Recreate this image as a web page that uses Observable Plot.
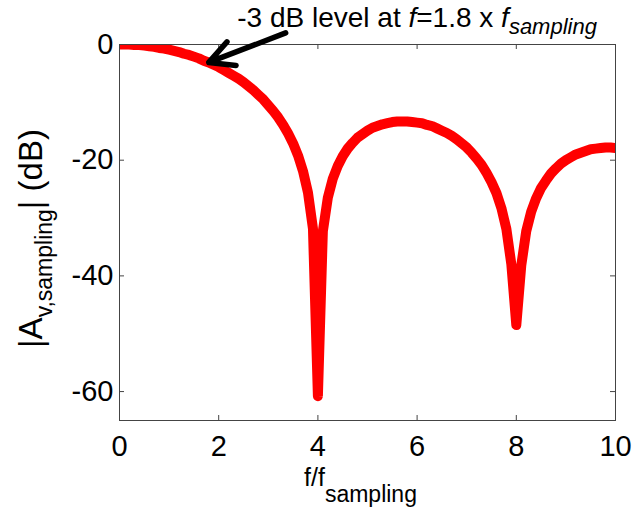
<!DOCTYPE html>
<html>
<head>
<meta charset="utf-8">
<script src="https://cdn.jsdelivr.net/npm/d3@7"></script>
<script src="https://cdn.jsdelivr.net/npm/@observablehq/plot@0.6"></script>
<style>
  html, body { margin: 0; padding: 0; background: white; }
</style>
</head>
<body>
<div id="chart"></div>
<script>
// Frequency normalised to the sampling frequency
const freq = [
  0.0,0.1,0.2,0.3,0.4,0.5,0.6,0.7,0.8,0.9,
  1.0,1.1,1.2,1.3,1.4,1.5,1.6,1.7,1.8,1.9,
  2.0,2.1,2.2,2.3,2.4,2.5,2.6,2.7,2.8,2.9,
  3.0,3.1,3.2,3.3,3.4,3.5,3.6,3.7,3.8,3.9,
  4.0,4.1,4.2,4.3,4.4,4.5,4.6,4.7,4.8,4.9,
  5.0,5.1,5.2,5.3,5.4,5.5,5.6,5.7,5.8,5.9,
  6.0,6.1,6.2,6.3,6.4,6.5,6.6,6.7,6.8,6.9,
  7.0,7.1,7.2,7.3,7.4,7.5,7.6,7.7,7.8,7.9,
  8.0,8.1,8.2,8.3,8.4,8.5,8.6,8.7,8.8,8.9,
  9.0,9.1,9.2,9.3,9.4,9.5,9.6,9.7,9.8,9.9,
  10.0
];
// |A_v,sampling| in dB
const gainDb = [
  0.0,0.0,0.0,-0.1,-0.1,-0.2,-0.3,-0.4,-0.6,-0.7,
  -0.9,-1.1,-1.3,-1.6,-1.8,-2.1,-2.4,-2.8,-3.1,-3.5,
  -3.9,-4.4,-4.9,-5.4,-5.9,-6.5,-7.2,-7.9,-8.7,-9.5,
  -10.5,-11.5,-12.6,-13.9,-15.4,-17.1,-19.2,-21.9,-25.6,-31.8,
  -60.8,-32.3,-26.5,-23.2,-21.0,-19.3,-18.0,-17.0,-16.1,-15.5,
  -14.9,-14.4,-14.1,-13.8,-13.6,-13.4,-13.3,-13.3,-13.3,-13.4,
  -13.5,-13.6,-13.9,-14.1,-14.5,-14.9,-15.3,-15.8,-16.4,-17.1,
  -17.8,-18.7,-19.7,-20.8,-22.2,-23.8,-25.7,-28.3,-31.9,-38.0,
  -48.5,-38.2,-32.3,-28.9,-26.6,-24.8,-23.5,-22.3,-21.4,-20.6,
  -20.0,-19.5,-19.0,-18.7,-18.4,-18.1,-18.0,-17.9,-17.8,-17.8,
  -17.9
];
const xTicks = [0, 2, 4, 6, 8, 10];
const yTicks = [0, -20, -40, -60];
const xLabel = "f/fsampling";
const yLabel = "|Av,sampling| (dB)";
const annoText = "-3 dB level at f=1.8 x fsampling";
const annoPos = [6.0, 2.95];       // [f/fs, dB]
const arrowTail = [3.35, 2.0];     // [f/fs, dB]
const arrowHead = [1.8, -3.1];     // [f/fs, dB]

const rows = freq.map((f, i) => ({f, g: gainDb[i]}));
const W = 633, H = 512, ML = 119, MR = 18, MT = 44, MB = 92;
const FW = W - ML - MR, FH = H - MT - MB, TL = 5;
const axisColor = "#444";

const chart = Plot.plot({
  width: W, height: H,
  marginLeft: ML, marginRight: MR, marginTop: MT, marginBottom: MB,
  style: {fontFamily: "'Liberation Sans', Arial, sans-serif", background: "white", color: "black", overflow: "visible"},
  x: {domain: [0, 10]},
  y: {domain: [-65, 0]},
  marks: [
    Plot.line(rows, {x: "f", y: "g", stroke: "#ff0000", strokeWidth: 10, clip: true, strokeLinejoin: "round", strokeLinecap: "round"}),
    Plot.frame({stroke: axisColor, strokeWidth: 1}),
    Plot.tickX(xTicks, {x: d => d, insetTop: FH - TL, stroke: axisColor}),
    Plot.tickX(xTicks, {x: d => d, insetBottom: FH - TL, stroke: axisColor}),
    Plot.tickY(yTicks, {y: d => d, insetRight: FW - TL, stroke: axisColor}),
    Plot.tickY(yTicks, {y: d => d, insetLeft: FW - TL, stroke: axisColor}),
    Plot.axisX(xTicks, {tickSize: 0, tickPadding: 15, fontSize: 29, label: null, tickFormat: d => String(d)}),
    Plot.axisY(yTicks, {tickSize: 0, tickPadding: 6, fontSize: 29, label: null, tickFormat: d => String(d)}),
    Plot.arrow([0], {x1: arrowTail[0], y1: arrowTail[1], x2: arrowHead[0], y2: arrowHead[1], stroke: "black", strokeWidth: 5.5, headLength: 8, headAngle: 55}),
    Plot.text([annoText], {x: annoPos[0], y: annoPos[1], text: d => d, textAnchor: "middle", lineAnchor: "bottom", fontSize: 28, fill: "black"}),
    Plot.text([xLabel], {frameAnchor: "bottom", dx: -7, dy: 65, text: d => d, textAnchor: "middle", lineAnchor: "bottom", fontSize: 25, fill: "black"}),
    Plot.text([yLabel], {frameAnchor: "left", dx: -78, dy: 6, rotate: -90, text: d => d, textAnchor: "middle", lineAnchor: "bottom", fontSize: 33, fill: "black"})
  ]
});

// turn plain label strings into rich text (italics, subscripts)
function rich(svg, plain, parts) {
  d3.select(svg).selectAll("text").filter(function() { return this.textContent === plain; }).each(function() {
    const t = d3.select(this);
    t.text(null);
    let shift = 0;
    for (const p of parts) {
      const ts = t.append("tspan").text(p.t);
      const target = p.sub || 0;
      if (target !== shift) { ts.attr("dy", target - shift); shift = target; }
      if (p.size) ts.attr("font-size", p.size);
      if (p.italic) ts.attr("font-style", "italic");
    }
  });
}
rich(chart, annoText, [
  {t: "-3 dB level at "}, {t: "f", italic: true}, {t: "=1.8 x "}, {t: "f", italic: true},
  {t: "sampling", italic: true, sub: 7, size: 22}
]);
rich(chart, xLabel, [{t: "f/f"}, {t: "sampling", sub: 16, size: 23}]);
rich(chart, yLabel, [{t: "|A"}, {t: "v,sampling", sub: 10, size: 23}, {t: "| (dB)"}]);

document.getElementById("chart").appendChild(chart);
</script>
</body>
</html>
